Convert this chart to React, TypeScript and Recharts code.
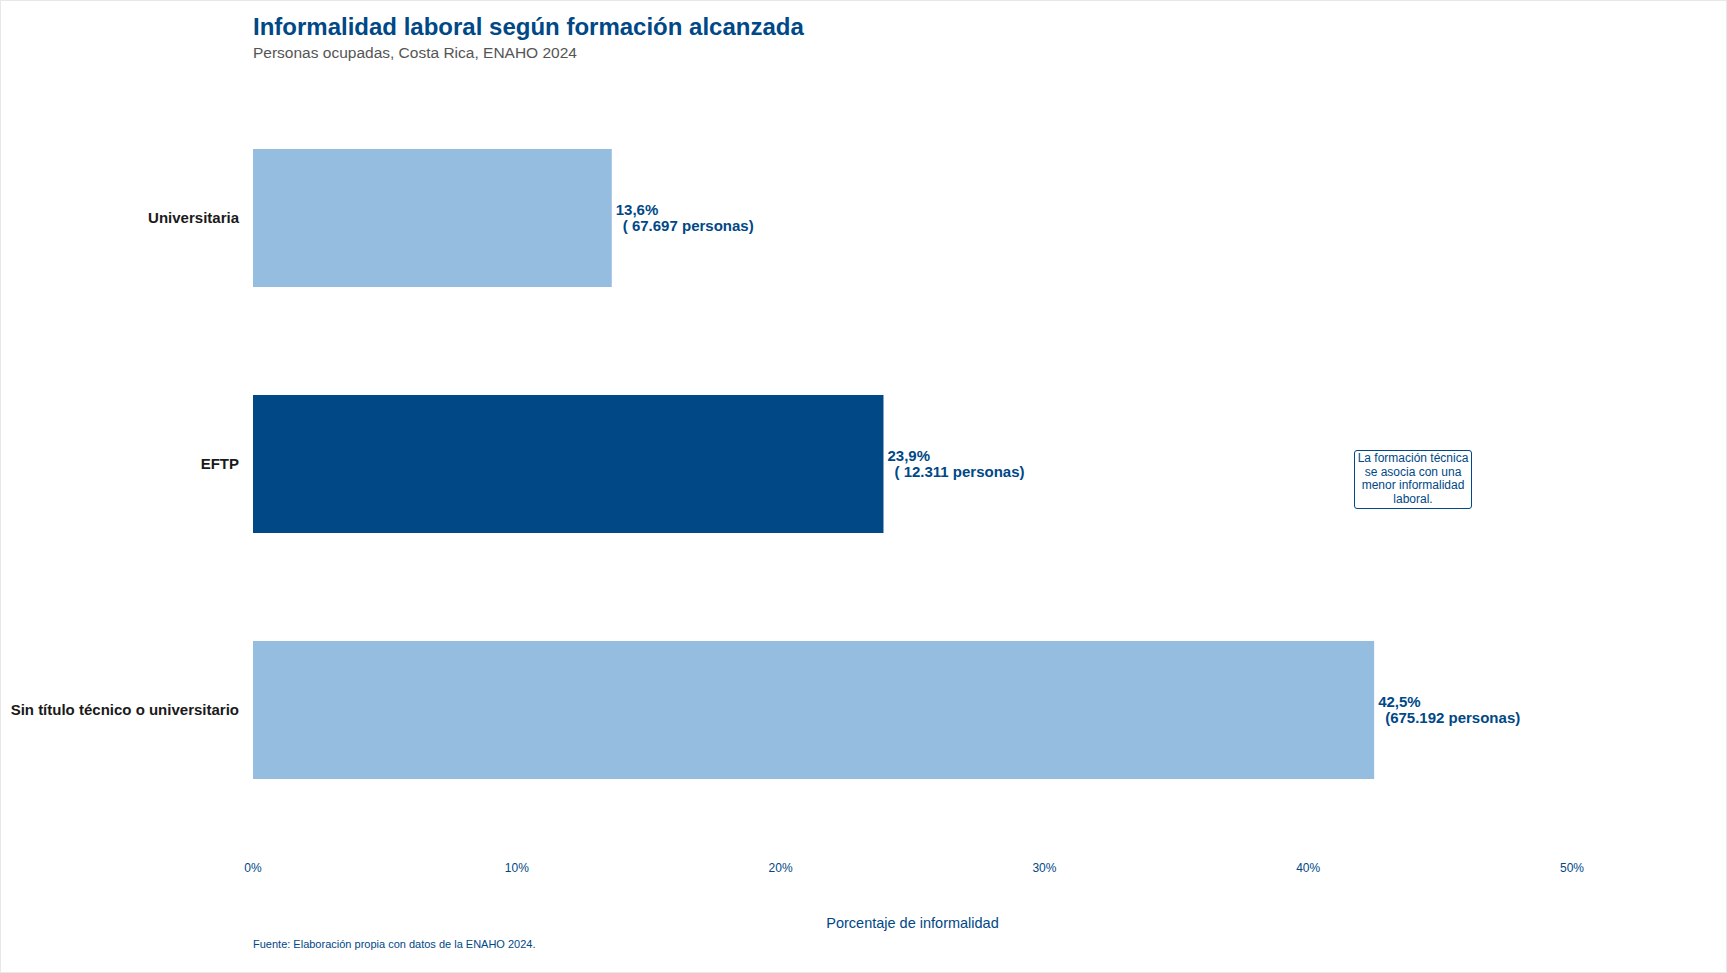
import { BarChart, Bar, XAxis, YAxis, Cell, LabelList } from 'recharts';

const categories = ['Universitaria', 'EFTP', 'Sin título técnico o universitario'];
const pct = [13.6, 23.9, 42.5];
const personas = ['67.697', '12.311', '675.192'];
const pctLabels = ['13,6%', '23,9%', '42,5%'];
const highlight = ['EFTP'];
const xTicks = [0, 10, 20, 30, 40, 50];

const data = categories.map((c, i) => ({ cat: c, pct: pct[i], label: pctLabels[i], personas: personas[i] }));

const NAVY = '#004886';
const LIGHT = '#95BDE0';
const FONT = '"Liberation Sans", Arial, sans-serif';

const ValueLabel = (p: any) => {
  const { x, y, width, height, index } = p;
  const d = data[index];
  const cy = y + height / 2;
  return (
    <text fontFamily={FONT} fontSize={15} fontWeight="bold" fill={NAVY}>
      <tspan x={x + width + 4} y={cy - 3}>{d.label}</tspan>
      <tspan x={x + width + 11} y={cy + 13}>{d.personas.length < 7 ? '( ' + d.personas : '(' + d.personas} personas)</tspan>
    </text>
  );
};

export default function App() {
  return (
    <div style={{ position: 'absolute', left: 0, top: 0, width: 1727, height: 973, background: '#fff', fontFamily: FONT, boxSizing: 'border-box', border: '1px solid #e8e8e8' }}>
      <div style={{ position: 'absolute', left: 252, top: 12, fontSize: 24, fontWeight: 'bold', color: NAVY }}>
        Informalidad laboral según formación alcanzada
      </div>
      <div style={{ position: 'absolute', left: 252, top: 43, fontSize: 15.5, color: '#555' }}>
        Personas ocupadas, Costa Rica, ENAHO 2024
      </div>
      <BarChart width={1727} height={973} data={data} layout="vertical"
        margin={{ top: 94, right: 156, bottom: 111, left: 0 }} barCategoryGap={54}>
        <XAxis type="number" domain={[0, 50]} ticks={xTicks} axisLine={false} tickLine={false}
          tickFormatter={(v: number) => `${v}%`} tickMargin={24}
          tick={{ fill: NAVY, fontSize: 12, fontFamily: FONT }} />
        <YAxis type="category" dataKey="cat" width={252} axisLine={false} tickLine={false} tickMargin={8}
          tick={{ fill: '#1a1a1a', fontSize: 15, fontWeight: 'bold', fontFamily: FONT }} />
        <Bar dataKey="pct" isAnimationActive={false}>
          {data.map((d, i) => (
            <Cell key={i} fill={highlight.includes(d.cat) ? NAVY : LIGHT} />
          ))}
          <LabelList dataKey="pct" content={ValueLabel} />
        </Bar>
      </BarChart>
      <div style={{ position: 'absolute', left: 0, width: 1727 - 156 + 252, top: 914, textAlign: 'center', fontSize: 14.5, color: NAVY }}>
        Porcentaje de informalidad
      </div>
      <div style={{ position: 'absolute', left: 252, top: 937, fontSize: 11, color: NAVY }}>
        Fuente: Elaboración propia con datos de la ENAHO 2024.
      </div>
      <div style={{ position: 'absolute', left: 1353, top: 449, width: 118, height: 59, boxSizing: 'border-box', border: `1px solid ${NAVY}`, borderRadius: 3, fontSize: 12, lineHeight: '13.5px', color: NAVY, textAlign: 'center', paddingTop: 1 }}>
        La formación técnica<br />se asocia con una<br />menor informalidad<br />laboral.
      </div>
    </div>
  );
}
